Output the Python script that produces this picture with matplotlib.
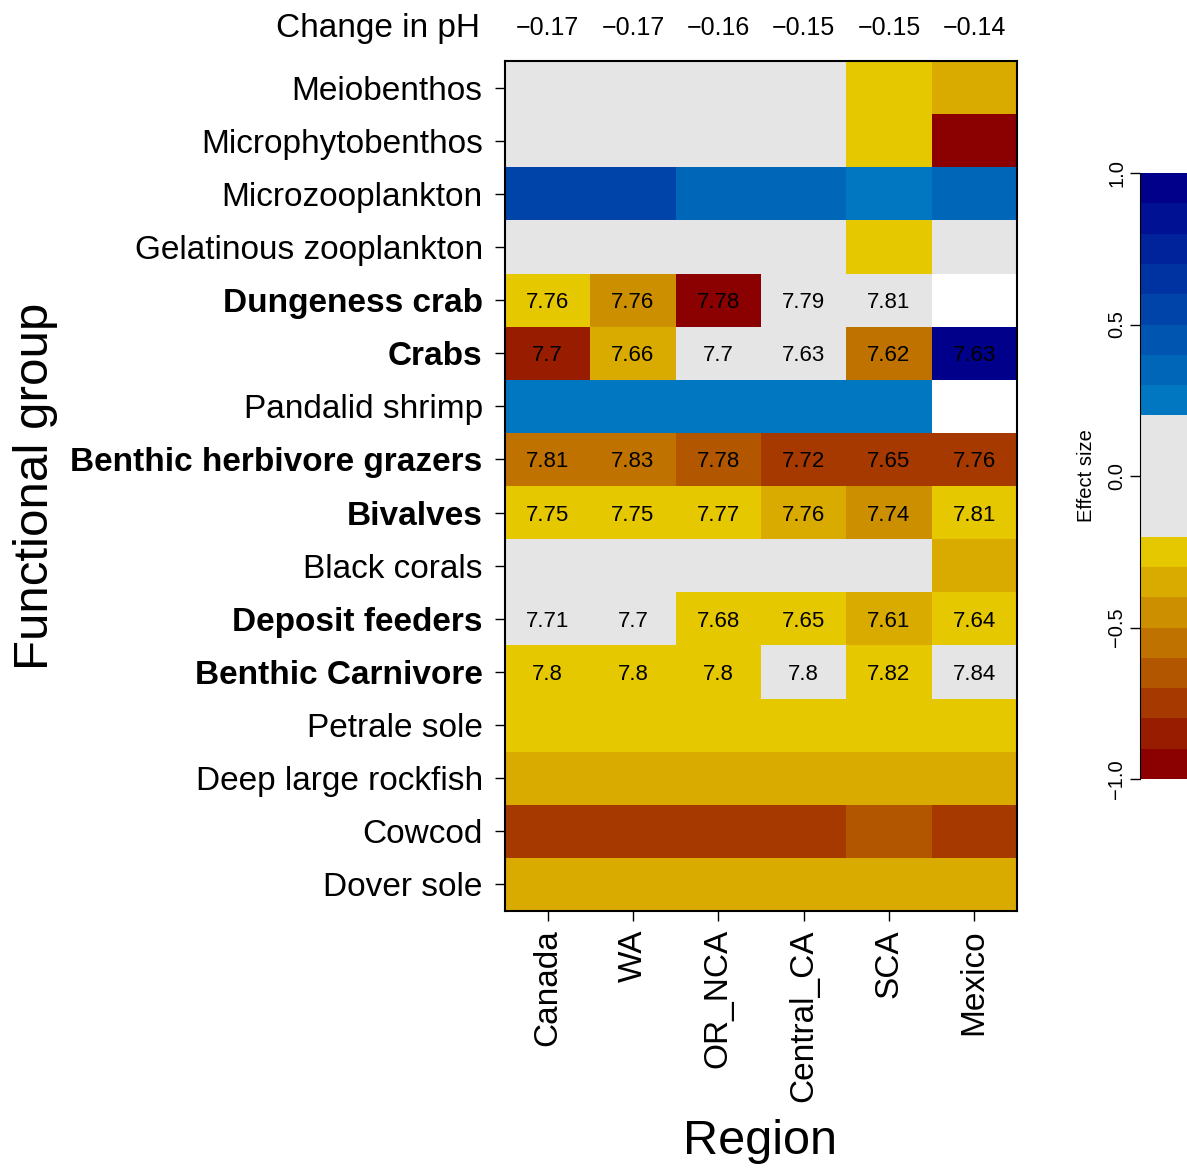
from matplotlib import pyplot as plt
from matplotlib.colors import ListedColormap, BoundaryNorm, to_hex, to_rgb
import numpy as np

plt.rcParams['font.family'] = ['Liberation Sans', 'DejaVu Sans']

# ---------------------------------------------------------------
# Data
# ---------------------------------------------------------------
regions = ['Canada', 'WA', 'OR_NCA', 'Central_CA', 'SCA', 'Mexico']
ph_change = ['\u22120.17', '\u22120.17', '\u22120.16', '\u22120.15', '\u22120.15', '\u22120.14']

groups = ['Meiobenthos', 'Microphytobenthos', 'Microzooplankton', 'Gelatinous zooplankton',
          'Dungeness crab', 'Crabs', 'Pandalid shrimp', 'Benthic herbivore grazers',
          'Bivalves', 'Black corals', 'Deposit feeders', 'Benthic Carnivore',
          'Petrale sole', 'Deep large rockfish', 'Cowcod', 'Dover sole']
bold_groups = ['Dungeness crab', 'Crabs', 'Benthic herbivore grazers', 'Bivalves',
               'Deposit feeders', 'Benthic Carnivore']

nan = np.nan
# effect size per group (rows) and region (columns)
effect = [
    [0.0,   0.0,   0.0,   0.0,   -0.25, -0.35],   # Meiobenthos
    [0.0,   0.0,   0.0,   0.0,   -0.25, -0.95],   # Microphytobenthos
    [0.55,  0.55,  0.35,  0.35,  0.25,  0.35],    # Microzooplankton
    [0.0,   0.0,   0.0,   0.0,   -0.25, 0.0],     # Gelatinous zooplankton
    [-0.25, -0.45, -0.95, 0.0,   0.0,   nan],     # Dungeness crab
    [-0.85, -0.35, 0.0,   0.0,   -0.55, 0.95],    # Crabs
    [0.25,  0.25,  0.25,  0.25,  0.25,  nan],     # Pandalid shrimp
    [-0.55, -0.55, -0.65, -0.75, -0.75, -0.75],   # Benthic herbivore grazers
    [-0.25, -0.25, -0.25, -0.35, -0.45, -0.25],   # Bivalves
    [0.0,   0.0,   0.0,   0.0,   0.0,   -0.35],   # Black corals
    [0.0,   0.0,   -0.25, -0.25, -0.35, -0.25],   # Deposit feeders
    [-0.25, -0.25, -0.25, 0.0,   -0.25, 0.0],     # Benthic Carnivore
    [-0.25, -0.25, -0.25, -0.25, -0.25, -0.25],   # Petrale sole
    [-0.35, -0.35, -0.35, -0.35, -0.35, -0.35],   # Deep large rockfish
    [-0.75, -0.75, -0.75, -0.75, -0.65, -0.75],   # Cowcod
    [-0.35, -0.35, -0.35, -0.35, -0.35, -0.35],   # Dover sole
]

# end-of-century pH labels for the bold groups
ph_dungeness = ['7.76', '7.76', '7.78', '7.79', '7.81', '']
ph_crabs     = ['7.7', '7.66', '7.7', '7.63', '7.62', '7.63']
ph_grazers   = ['7.81', '7.83', '7.78', '7.72', '7.65', '7.76']
ph_bivalves  = ['7.75', '7.75', '7.77', '7.76', '7.74', '7.81']
ph_deposit   = ['7.71', '7.7', '7.68', '7.65', '7.61', '7.64']
ph_carnivore = ['7.8', '7.8', '7.8', '7.8', '7.82', '7.84']
ph_rows = {'Dungeness crab': ph_dungeness, 'Crabs': ph_crabs,
           'Benthic herbivore grazers': ph_grazers, 'Bivalves': ph_bivalves,
           'Deposit feeders': ph_deposit, 'Benthic Carnivore': ph_carnivore}

# ---------------------------------------------------------------
# Colour scale: 8 warm steps, grey centre, 8 blue steps
# ---------------------------------------------------------------
def ramp(c0, c1, n):
    a = np.array(to_rgb(c0))
    b = np.array(to_rgb(c1))
    return [to_hex(a + (b - a) * t) for t in np.linspace(0, 1, n)]

colors = ramp('#8B0000', '#E6C800', 8) + ['#E5E5E5'] + ramp('#0077C0', '#00008B', 8)
bounds = list(np.round(np.arange(-1.0, -0.15, 0.1), 2)) + list(np.round(np.arange(0.2, 1.05, 0.1), 2))
cmap = ListedColormap(colors)
cmap.set_bad('white')
norm = BoundaryNorm(bounds, cmap.N)

# ---------------------------------------------------------------
# Plot
# ---------------------------------------------------------------
fig = plt.figure(figsize=(11.87, 11.71), dpi=100)
ax = fig.add_axes([0.4254, 0.2220, 0.4313, 0.7259])

data = np.ma.masked_invalid(np.array(effect, dtype=float))
ax.pcolormesh(np.arange(len(regions) + 1) - 0.5, np.arange(len(groups) + 1) - 0.5,
              data, cmap=cmap, norm=norm)
ax.set_xlim(-0.5, len(regions) - 0.5)
ax.set_ylim(len(groups) - 0.5, -0.5)

ax.set_xticks(range(len(regions)))
ax.set_xticklabels(regions, rotation=90, fontsize=24)
ax.set_yticks(range(len(groups)))
ax.set_yticklabels(groups, fontsize=24)
for lab in ax.get_yticklabels():
    if lab.get_text() in bold_groups:
        lab.set_fontweight('bold')
ax.tick_params(axis='y', length=7, width=1, pad=9)
ax.tick_params(axis='x', length=7, width=1, pad=6)
for s in ax.spines.values():
    s.set_linewidth(1.5)

# cell labels
for i, g in enumerate(groups):
    if g in ph_rows:
        for j, txt in enumerate(ph_rows[g]):
            if txt:
                ax.text(j, i, txt, ha='center', va='center_baseline', fontsize=16)

# change in pH row on top
for j, txt in enumerate(ph_change):
    ax.text(j, 1.039, txt, transform=ax.get_xaxis_transform(), ha='center', va='center', fontsize=18)
fig.text(480 / 1187, 1 - 28 / 1171, 'Change in pH', ha='right', va='center', fontsize=24)

fig.text(36 / 1187, 0.585, 'Functional group', rotation=90, ha='center', va='center', fontsize=35.5)
fig.text(760 / 1187, 1 - 1142 / 1171, 'Region', ha='center', va='center', fontsize=35)

# colour bar
cax = fig.add_axes([1140 / 1187, 1 - 779 / 1171, 47 / 1187, 606 / 1171])
cb = fig.colorbar(plt.cm.ScalarMappable(norm=norm, cmap=cmap), cax=cax,
                  boundaries=bounds, spacing='proportional')
cb.outline.set_visible(False)
cb.minorticks_off()
cax.spines['left'].set_visible(True)
cax.yaxis.set_ticks_position('left')
cb.set_ticks([-1.0, -0.5, 0.0, 0.5, 1.0])
cb.set_ticklabels(['\u22121.0', '\u22120.5', '0.0', '0.5', '1.0'])
cax.tick_params(length=7, width=1, labelsize=14.5, pad=3)
for lab in cax.get_yticklabels():
    lab.set_rotation(90)
    lab.set_va('center')
cax.set_ylabel('Effect size', fontsize=14.5, labelpad=8)
cax.yaxis.set_label_position('left')

fig.savefig('out.png', dpi=100)
